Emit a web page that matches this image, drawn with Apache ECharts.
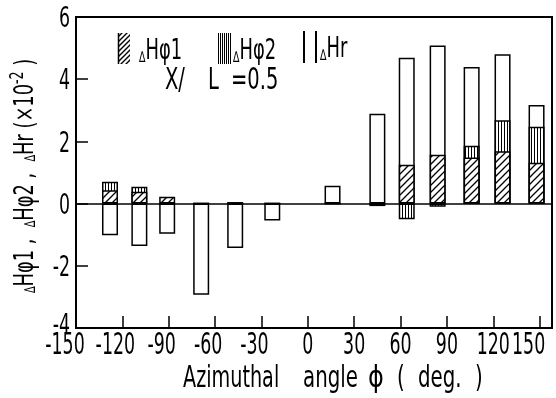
<!DOCTYPE html>
<html><head><meta charset="utf-8">
<script src="https://cdn.jsdelivr.net/npm/echarts@6/dist/echarts.min.js"></script>
<style>html,body{margin:0;padding:0;background:#fff}#c{width:556px;height:398px}</style>
</head><body><div id="c"></div>
<script>
// Azimuthal angles (deg.) of the bars
const angles = [-128, -109, -91, -69, -47, -23, 16, 45, 64, 84, 106, 126, 148];
// ΔHφ1 (hatched, x10^-2)
const dHphi1 = [0.43, 0.38, 0.22, 0, 0.05, 0, 0, -0.08, 1.25, 1.57, 1.48, 1.68, 1.31];
// ΔHφ2 (vertical lines, stacked on ΔHφ1 when same sign, x10^-2)
const dHphi2 = [0.27, 0.16, 0, 0, 0, 0, 0, 0, -0.5, -0.1, 0.38, 1.0, 1.16];
// ΔHr (open bars, x10^-2)
const dHr = [-1.02, -1.36, -0.97, -2.93, -1.43, -0.54, 0.57, 2.89, 4.69, 5.08, 4.39, 4.8, 3.17];
// tick labels
const xTickLabels = [-150, -120, -90, -60, -30, 0, 30, 60, 90, 120, 150];
const yTickLabels = [-4, -2, 0, 2, 4, 6];

const FONT = "'DejaVu Sans',sans-serif";

function hatchCanvas() {
  const c = document.createElement('canvas'); c.width = 7; c.height = 7;
  const g = c.getContext('2d');
  g.fillStyle = '#fff'; g.fillRect(0, 0, 7, 7);
  g.strokeStyle = '#000'; g.lineWidth = 1.3; g.beginPath();
  g.moveTo(-1, 8); g.lineTo(8, -1);
  g.moveTo(-1, 1); g.lineTo(1, -1);
  g.moveTo(6, 8); g.lineTo(8, 6);
  g.stroke();
  return c;
}
function hatchDenseCanvas() {
  const c = document.createElement('canvas'); c.width = 5; c.height = 5;
  const g = c.getContext('2d');
  g.fillStyle = '#fff'; g.fillRect(0, 0, 5, 5);
  g.strokeStyle = '#000'; g.lineWidth = 1.4; g.beginPath();
  g.moveTo(-1, 6); g.lineTo(6, -1);
  g.moveTo(-1, 1); g.lineTo(1, -1);
  g.moveTo(4, 6); g.lineTo(6, 4);
  g.stroke();
  return c;
}
function vertCanvas(w) {
  const c = document.createElement('canvas'); c.width = w; c.height = 3;
  const g = c.getContext('2d');
  g.fillStyle = '#fff'; g.fillRect(0, 0, w, 3);
  g.fillStyle = '#000'; g.fillRect(0, 0, 1, 3);
  return c;
}
const hatch = { image: hatchCanvas(), repeat: 'repeat' };
const hatchDense = { image: hatchDenseCanvas(), repeat: 'repeat' };
const vert = { image: vertCanvas(3), repeat: 'repeat' };
const vertDense = { image: vertCanvas(2), repeat: 'repeat' };

// top of the ΔHφ2 segment: stacked on ΔHφ1 when both have the same sign
const phi2Top = dHphi2.map((v, i) => (v * dHphi1[i] > 0 ? v + dHphi1[i] : v));

const chart = echarts.init(document.getElementById('c'), null, { renderer: 'canvas' });
chart.setOption({
  animation: false,
  backgroundColor: '#fff',
  grid: { left: 76, right: 4, top: 17, bottom: 70, show: true, borderColor: '#000', borderWidth: 2, backgroundColor: 'transparent' },
  xAxis: {
    type: 'value', min: -150, max: 158, interval: 30,
    axisLine: { show: true, onZero: false, lineStyle: { color: '#000', width: 2 } },
    axisTick: { show: true, inside: true, length: 12, lineStyle: { color: '#000', width: 1.5 } },
    axisLabel: { show: false },
    splitLine: { show: false }
  },
  yAxis: {
    type: 'value', min: -4, max: 6, interval: 2,
    axisLine: { show: true, onZero: false, lineStyle: { color: '#000', width: 2 } },
    axisTick: { show: true, inside: true, length: 12, lineStyle: { color: '#000', width: 1.5 } },
    axisLabel: { show: false },
    splitLine: { show: false }
  },
  series: [
    {
      type: 'bar', name: 'ΔHr', barWidth: 16, barGap: '-100%',
      data: angles.map((a, i) => [a, dHr[i]]),
      itemStyle: { color: '#fff', borderColor: '#000', borderWidth: 1.5 },
      markLine: { silent: true, symbol: 'none', label: { show: false },
        lineStyle: { color: '#000', width: 1.5, type: 'solid' }, data: [{ yAxis: 0 }] }
    },
    {
      type: 'bar', name: 'ΔHφ2', barWidth: 16, barGap: '-100%',
      data: angles.map((a, i) => [a, phi2Top[i]]),
      itemStyle: { color: vert, borderColor: '#000', borderWidth: 1.5 }
    },
    {
      type: 'bar', name: 'ΔHφ1', barWidth: 16, barGap: '-100%',
      data: angles.map((a, i) => [a, dHphi1[i]]),
      itemStyle: { color: hatch, borderColor: '#000', borderWidth: 1.5 }
    }
  ]
});

// --- text (narrow, tall lettering like the original) ---
function txt(x, y, text, size, sx) {
  return { type: 'text', x: x, y: y, scaleX: sx,
    style: { text: text, fontSize: size, fontFamily: FONT, fill: '#000', textAlign: 'left', textVerticalAlign: 'bottom' } };
}
function deltaText(x, y, label, size, sx) {
  return { type: 'text', x: x, y: y, scaleX: sx,
    style: { text: '{t|∆}{b|' + label + '}', textVerticalAlign: 'bottom',
      rich: { t: { fontSize: Math.round(size * 0.55), fontFamily: FONT, fill: '#000', verticalAlign: 'bottom' },
              b: { fontSize: size, fontFamily: FONT, fill: '#000', verticalAlign: 'bottom' } } } };
}

const graphics = [];
xTickLabels.forEach(v => {
  const p = chart.convertToPixel({ gridIndex: 0 }, [v, -4]);
  let nudge = v < 0 ? -7 : 0;
  if (v === -150) nudge = -11;
  if (v === 150) nudge = -11;
  graphics.push({ type: 'text', x: p[0] + nudge, y: p[1] + 18, scaleX: 0.58,
    style: { text: String(v), fontSize: 30, fontFamily: FONT, fill: '#000', textAlign: 'center', textVerticalAlign: 'middle' } });
});
yTickLabels.forEach(v => {
  const p = chart.convertToPixel({ gridIndex: 0 }, [-150, v]);
  graphics.push({ type: 'text', x: p[0] - 6, y: p[1] + (v === -4 ? -1 : 3), scaleX: 0.62,
    style: { text: String(v), fontSize: 28, fontFamily: FONT, fill: '#000', textAlign: 'right', textVerticalAlign: 'middle' } });
});

// legend
graphics.push({ type: 'rect', shape: { x: 118, y: 33, width: 12, height: 31 }, style: { fill: hatchDense, stroke: null } });
graphics.push({ type: 'line', shape: { x1: 118.5, y1: 33, x2: 118.5, y2: 64 }, style: { stroke: '#000', lineWidth: 1.5 } });
graphics.push(deltaText(139, 66, 'Hφ1', 28, 0.64));
graphics.push({ type: 'rect', shape: { x: 218, y: 33, width: 14, height: 31 }, style: { fill: vertDense, stroke: null } });
graphics.push(deltaText(233, 66, 'Hφ2', 28, 0.64));
graphics.push({ type: 'line', shape: { x1: 304, y1: 31, x2: 304, y2: 63 }, style: { stroke: '#000', lineWidth: 2 } });
graphics.push({ type: 'line', shape: { x1: 316, y1: 31, x2: 316, y2: 63 }, style: { stroke: '#000', lineWidth: 2 } });
graphics.push(deltaText(320, 64, 'Hr', 28, 0.64));
graphics.push(txt(165, 96, 'X/', 30, 0.65));
graphics.push(txt(208, 96, 'L', 30, 0.65));
graphics.push(txt(231, 96, '=0.5', 30, 0.65));

// x axis title
graphics.push(txt(183, 394, 'Azimuthal', 30, 0.64));
graphics.push(txt(303, 394, 'angle', 30, 0.66));
graphics.push(txt(368, 394, 'ϕ', 30, 0.8));
graphics.push(txt(397, 394, '(', 30, 0.66));
graphics.push(txt(418, 394, 'deg.', 30, 0.66));
graphics.push(txt(475, 394, ')', 30, 0.66));

// y axis title (rotated)
graphics.push({ type: 'text', x: 24, y: 176, rotation: Math.PI / 2, scaleX: 0.66,
  style: { text: '{t|∆}{b|Hφ1 ,  }{t|∆}{b|Hφ2 ,  }{t|∆}{b|Hr (×10}{s|-2}{b| )}',
    textAlign: 'center', textVerticalAlign: 'middle',
    rich: { t: { fontSize: 15, fontFamily: FONT, fill: '#000', verticalAlign: 'bottom', lineHeight: 30 },
            b: { fontSize: 27, fontFamily: FONT, fill: '#000', verticalAlign: 'bottom', lineHeight: 30 },
            s: { fontSize: 19, fontFamily: FONT, fill: '#000', verticalAlign: 'top', lineHeight: 20 } } } });

chart.setOption({ graphic: graphics });
</script></body></html>
